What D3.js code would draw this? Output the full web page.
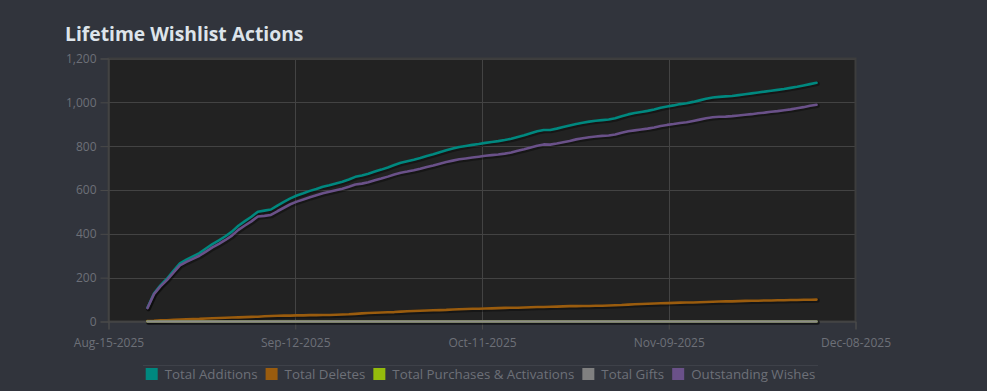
<!DOCTYPE html>
<html>
<head>
<meta charset="utf-8">
<script src="https://cdn.jsdelivr.net/npm/d3@7"></script>
<style>
  html, body { margin: 0; padding: 0; background: #31343c; }
  svg { display: block; }
  text { font-family: "Open Sans", "Noto Sans", sans-serif; }
</style>
</head>
<body>
<svg id="chart" width="987" height="391"></svg>
<script>
// ---------- DATA ----------
const title = "Lifetime Wishlist Actions";
const startDate = "2025-08-21"; // first daily point
const seriesNames = ["Total Additions", "Total Deletes", "Total Purchases & Activations", "Total Gifts", "Outstanding Wishes"];
const seriesColors = ["#00887f", "#9a5c0e", "#94bb0c", "#808080", "#6a5189"];
const yTicks = [0, 200, 400, 600, 800, 1000, 1200];
const xTickLabels = ["Aug-15-2025", "Sep-12-2025", "Oct-11-2025", "Nov-09-2025", "Dec-08-2025"];
const xDomain = ["2025-08-15", "2025-12-08"];

const totalAdditions = [63,128,165,195,231,265,282,297,312,333,353,370,389,410,437,458,478,501,506,511,
  529,546,562,575,585,596,605,615,622,630,638,648,660,666,674,684,693,703,714,724,
  731,738,746,755,763,772,781,789,796,801,806,810,815,819,823,828,834,842,850,859,
  868,874,874,880,887,894,901,907,912,916,919,922,927,936,945,951,956,961,967,975,
  981,986,992,996,1002,1009,1016,1022,1025,1027,1029,1033,1037,1041,1045,1049,1053,1057,1061,1066,
  1071,1077,1083,1089];
const totalDeletes = [2,3,5,6,8,9,10,11,12,14,15,16,17,18,19,20,21,22,24,25,
  26,27,27,28,28,29,29,30,30,31,32,33,35,37,39,40,41,42,43,45,
  47,48,49,50,51,52,53,55,56,57,58,58,59,60,61,62,63,63,64,65,
  66,66,67,68,69,70,70,71,71,72,72,73,74,75,77,79,80,81,82,83,
  84,85,86,87,87,88,89,90,91,92,92,93,94,95,95,96,96,97,97,98,
  98,99,99,100];
const totalPurchases = [0,0,0,0,0,0,0,0,0,0,0,0,0,0,0,0,0,0,0,0,
  0,0,0,0,0,0,0,0,0,0,0,0,0,0,0,0,0,0,0,0,
  0,0,0,0,0,0,0,0,0,0,0,0,0,0,0,0,0,0,0,0,
  0,0,0,0,0,0,0,0,0,0,0,0,0,0,0,0,0,0,0,0,
  0,0,0,0,0,0,0,0,0,0,0,0,0,0,0,0,0,0,0,0,
  0,0,0,0];
const totalGifts = [0,0,0,0,0,0,0,0,0,0,0,0,0,0,0,0,0,0,0,0,
  0,0,0,0,0,0,0,0,0,0,0,0,0,0,0,0,0,0,0,0,
  0,0,0,0,0,0,0,0,0,0,0,0,0,0,0,0,0,0,0,0,
  0,0,0,0,0,0,0,0,0,0,0,0,0,0,0,0,0,0,0,0,
  0,0,0,0,0,0,0,0,0,0,0,0,0,0,0,0,0,0,0,0,
  0,0,0,0];
const outstandingWishes = [61,125,160,189,223,256,272,286,300,319,338,354,372,392,418,438,457,479,482,486,
  503,519,535,547,557,567,576,585,592,599,606,615,625,629,635,644,652,661,671,679,
  684,690,697,705,712,720,728,734,740,744,748,752,756,759,762,766,771,779,786,794,
  802,808,807,812,818,824,831,836,841,844,847,849,853,861,868,872,876,880,885,892,
  897,901,906,909,915,921,927,932,934,935,937,940,943,946,950,953,957,960,964,968,
  973,978,984,989];

// ---------- LAYOUT ----------
const W = 987, H = 391;
const plot = { left: 108.5, right: 855.5, top: 58.5, bottom: 321.5 };
const svg = d3.select("#chart");

const t0 = new Date(xDomain[0] + "T00:00:00Z");
const t1 = new Date(xDomain[1] + "T00:00:00Z");
const x = d3.scaleUtc().domain([t0, t1]).range([plot.left, plot.right]);
const y = d3.scaleLinear().domain([0, 1200]).range([plot.bottom, plot.top]);

const s0 = new Date(startDate + "T00:00:00Z");
const dates = totalAdditions.map((_, i) => d3.utcDay.offset(s0, i));
const seriesValues = [totalAdditions, totalDeletes, totalPurchases, totalGifts, outstandingWishes];

// title
svg.append("text")
  .attr("x", 65).attr("y", 41)
  .attr("fill", "#dde4ea")
  .attr("font-size", 19.3).attr("font-weight", 700)
  .text(title);

// plot background
svg.append("rect")
  .attr("x", plot.left).attr("y", plot.top)
  .attr("width", plot.right - plot.left).attr("height", plot.bottom - plot.top)
  .attr("fill", "#222222");

// x ticks evenly spaced across domain
const xTickValues = xTickLabels.map((_, i) => new Date(+t0 + i * (t1 - t0) / (xTickLabels.length - 1)));

// grid
svg.append("g").selectAll("line.h").data(yTicks.slice(1)).join("line")
  .attr("x1", plot.left).attr("x2", plot.right)
  .attr("y1", d => Math.round(y(d)) + 0.5).attr("y2", d => Math.round(y(d)) + 0.5)
  .attr("stroke", "#434343").attr("stroke-width", 1);
svg.append("g").selectAll("line.v").data(xTickValues.slice(1, -1)).join("line")
  .attr("x1", d => Math.round(x(d)) + 0.5).attr("x2", d => Math.round(x(d)) + 0.5)
  .attr("y1", plot.top).attr("y2", plot.bottom)
  .attr("stroke", "#434343").attr("stroke-width", 1);

// plot frame
svg.append("rect")
  .attr("x", plot.left).attr("y", plot.top)
  .attr("width", plot.right - plot.left).attr("height", plot.bottom - plot.top)
  .attr("fill", "none").attr("stroke", "#3d3d3d").attr("stroke-width", 2);

// axes
const yAxis = d3.axisLeft(y).tickValues(yTicks).tickSize(8).tickPadding(4)
  .tickFormat(d3.format(","));
const gy = svg.append("g").attr("transform", `translate(${plot.left},0)`).call(yAxis);
gy.select(".domain").attr("stroke", "#4a4a4a");
gy.selectAll(".tick line").attr("stroke", "#4a4a4a");
gy.selectAll(".tick text").attr("fill", "#6d7078").attr("font-size", 12)
  .attr("font-family", "'Open Sans', sans-serif");

const xAxis = d3.axisBottom(x).tickValues(xTickValues).tickSize(8).tickPadding(9)
  .tickFormat((d, i) => xTickLabels[i]);
const gx = svg.append("g").attr("transform", `translate(0,${plot.bottom})`).call(xAxis);
gx.select(".domain").attr("stroke", "#4a4a4a");
gx.selectAll(".tick line").attr("stroke", "#4a4a4a");
gx.selectAll(".tick text").attr("fill", "#6d7078").attr("font-size", 12)
  .attr("font-family", "'Open Sans', sans-serif");

// lines
const line = d3.line().x((d, i) => x(dates[i])).y(d => y(d)).curve(d3.curveLinear);
const gLines = svg.append("g");
seriesValues.forEach((vals, k) => {
  gLines.append("path").datum(vals)
    .attr("d", line).attr("fill", "none")
    .attr("stroke", "#000").attr("stroke-opacity", 0.35).attr("stroke-width", 4.5)
    .attr("stroke-linejoin", "round").attr("stroke-linecap", "round")
    .attr("transform", "translate(1,1)");
  gLines.append("path").datum(vals)
    .attr("d", line).attr("fill", "none")
    .attr("stroke", k === 3 ? "#8c8c88" : seriesColors[k]).attr("stroke-width", 2.6)
    .attr("stroke-linejoin", "round").attr("stroke-linecap", "round");
});

// legend
svg.append("line")
  .attr("x1", 143).attr("x2", 818).attr("y1", 365.5).attr("y2", 365.5)
  .attr("stroke", "#3e4149");
const legend = svg.append("g");
let lx = 0;
seriesNames.forEach((name, k) => {
  const g = legend.append("g");
  g.append("rect").attr("x", 0).attr("y", -6).attr("width", 12).attr("height", 12)
    .attr("fill", seriesColors[k]);
  const t = g.append("text").attr("x", 19).attr("y", 4.5)
    .attr("fill", "#6d7078").attr("font-size", 13.3).text(name);
  const w = t.node().getComputedTextLength();
  g.attr("transform", `translate(${lx},0)`);
  lx += 19 + w + 8;
});
const totalW = lx - 8;
legend.attr("transform", `translate(${(143 + 818) / 2 - totalW / 2},374)`);
</script>
</body>
</html>
